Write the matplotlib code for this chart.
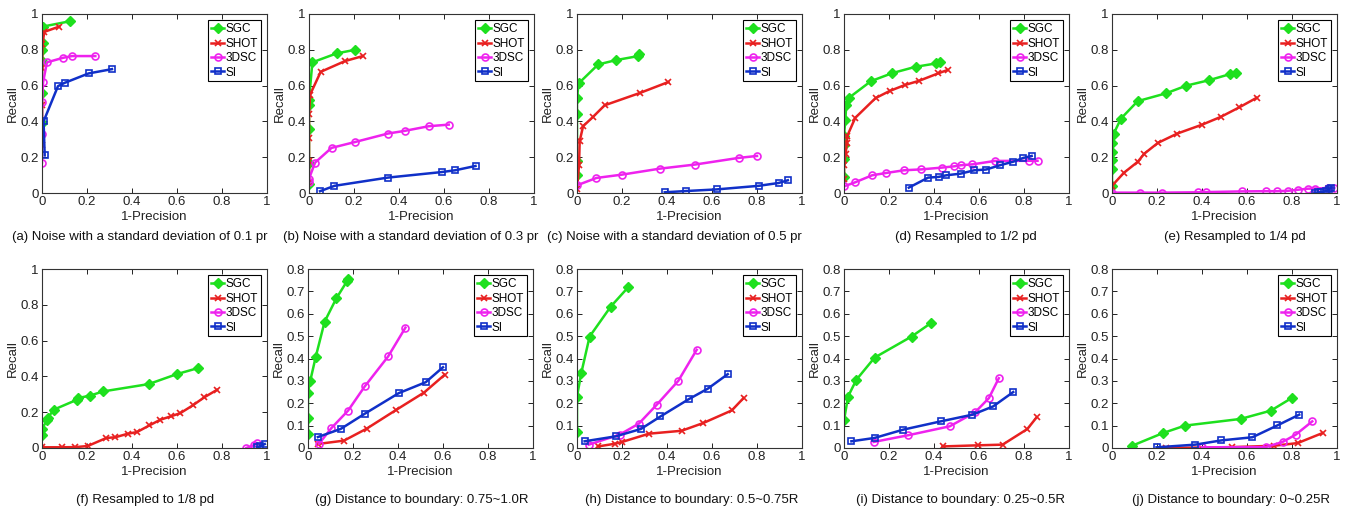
import matplotlib
matplotlib.use('Agg')
import matplotlib.pyplot as plt

plt.rcParams['font.family'] = ['Liberation Sans', 'DejaVu Sans']

methods = ['SGC', 'SHOT', '3DSC', 'SI']

# (a) noise 0.1 pr
a_sgc_x = [0, 0, 0, 0, 0.003, 0.005, 0.126]
a_sgc_y = [0.39, 0.56, 0.74, 0.80, 0.84, 0.93, 0.96]
a_shot_x = [0, 0, 0, 0.002, 0.01, 0.077]
a_shot_y = [0.27, 0.49, 0.70, 0.83, 0.90, 0.93]
a_3dsc_x = [0, 0, 0, 0.005, 0.022, 0.093, 0.133, 0.237]
a_3dsc_y = [0.17, 0.33, 0.51, 0.62, 0.73, 0.755, 0.765, 0.765]
a_si_x = [0.012, 0.007, 0.071, 0.10, 0.207, 0.311]
a_si_y = [0.21, 0.40, 0.597, 0.615, 0.668, 0.692]

# (b) noise 0.3 pr
b_sgc_x = [0, 0, 0, 0, 0, 0.015, 0.123, 0.205]
b_sgc_y = [0.05, 0.17, 0.36, 0.49, 0.52, 0.73, 0.78, 0.80]
b_shot_x = [0, 0, 0, 0, 0.005, 0.052, 0.16, 0.239]
b_shot_y = [0.06, 0.18, 0.31, 0.44, 0.55, 0.677, 0.737, 0.765]
b_3dsc_x = [0, 0, 0.027, 0.10, 0.205, 0.35, 0.425, 0.532, 0.621]
b_3dsc_y = [0.06, 0.08, 0.17, 0.252, 0.285, 0.332, 0.347, 0.373, 0.382]
b_si_x = [0.049, 0.113, 0.35, 0.59, 0.65, 0.74]
b_si_y = [0.01, 0.04, 0.086, 0.117, 0.127, 0.151]

# (c) noise 0.5 pr
c_sgc_x = [0, 0, 0, 0, 0.007, 0.094, 0.172, 0.272, 0.275]
c_sgc_y = [0.10, 0.18, 0.44, 0.528, 0.612, 0.718, 0.742, 0.765, 0.775]
c_shot_x = [0, 0.009, 0.012, 0.027, 0.071, 0.123, 0.282, 0.406]
c_shot_y = [0.02, 0.155, 0.29, 0.373, 0.425, 0.49, 0.56, 0.62]
c_3dsc_x = [0, 0.086, 0.202, 0.368, 0.525, 0.718, 0.80]
c_3dsc_y = [0.043, 0.084, 0.103, 0.136, 0.159, 0.196, 0.207]
c_si_x = [0.39, 0.485, 0.62, 0.807, 0.896, 0.937]
c_si_y = [0.004, 0.011, 0.02, 0.04, 0.056, 0.071]

# (d) resampled 1/2 pd
d_sgc_x = [0, 0, 0, 0, 0.006, 0.01, 0.02, 0.12, 0.215, 0.318, 0.41, 0.425]
d_sgc_y = [0.09, 0.19, 0.27, 0.32, 0.41, 0.49, 0.53, 0.625, 0.67, 0.705, 0.724, 0.733]
d_shot_x = [0, 0, 0.007, 0.013, 0.015, 0.05, 0.14, 0.203, 0.27, 0.334, 0.418, 0.46]
d_shot_y = [0.08, 0.155, 0.216, 0.28, 0.32, 0.42, 0.53, 0.57, 0.603, 0.627, 0.668, 0.687]
d_3dsc_x = [0, 0.05, 0.125, 0.188, 0.267, 0.344, 0.436, 0.49, 0.518, 0.571, 0.67, 0.823, 0.86]
d_3dsc_y = [0.037, 0.06, 0.099, 0.112, 0.127, 0.132, 0.142, 0.149, 0.155, 0.16, 0.179, 0.18, 0.18]
d_si_x = [0.288, 0.374, 0.421, 0.455, 0.518, 0.579, 0.631, 0.693, 0.752, 0.797, 0.834]
d_si_y = [0.03, 0.086, 0.09, 0.099, 0.108, 0.127, 0.131, 0.155, 0.175, 0.196, 0.207]

# (e) resampled 1/4 pd
e_sgc_x = [0, 0, 0, 0, 0, 0.007, 0.04, 0.114, 0.238, 0.331, 0.431, 0.524, 0.55]
e_sgc_y = [0.04, 0.132, 0.183, 0.23, 0.28, 0.33, 0.416, 0.513, 0.556, 0.60, 0.63, 0.664, 0.672]
e_shot_x = [0, 0.052, 0.114, 0.144, 0.204, 0.29, 0.401, 0.483, 0.565, 0.643]
e_shot_y = [0.04, 0.112, 0.174, 0.22, 0.28, 0.332, 0.382, 0.425, 0.478, 0.532]
e_3dsc_x = [0, 0.126, 0.22, 0.383, 0.416, 0.578, 0.686, 0.733, 0.78, 0.825, 0.87, 0.9, 0.96, 0.988]
e_3dsc_y = [0.002, 0.002, 0.002, 0.004, 0.005, 0.009, 0.01, 0.01, 0.012, 0.018, 0.024, 0.025, 0.028, 0.028]
e_si_x = [0.9, 0.914, 0.93, 0.95, 0.966, 0.973]
e_si_y = [0.002, 0.003, 0.005, 0.01, 0.02, 0.03]

# (f) resampled 1/8 pd
f_sgc_x = [0, 0, 0.022, 0.025, 0.052, 0.156, 0.159, 0.212, 0.271, 0.474, 0.60, 0.692]
f_sgc_y = [0.074, 0.108, 0.154, 0.167, 0.214, 0.27, 0.279, 0.292, 0.316, 0.357, 0.413, 0.446]
f_shot_x = [0, 0.089, 0.148, 0.203, 0.286, 0.326, 0.382, 0.422, 0.477, 0.526, 0.573, 0.615, 0.67, 0.721, 0.778]
f_shot_y = [0.004, 0.004, 0.005, 0.011, 0.056, 0.06, 0.08, 0.089, 0.126, 0.158, 0.177, 0.195, 0.238, 0.283, 0.325]
f_3dsc_x = [0.908, 0.94, 0.955]
f_3dsc_y = [0.0, 0.015, 0.026]
f_si_x = [0.955, 0.97, 0.99]
f_si_y = [0.004, 0.01, 0.022]

# (g) distance 0.75~1.0R
g_sgc_x = [0, 0, 0, 0.01, 0.034, 0.074, 0.126, 0.175, 0.177]
g_sgc_y = [0.064, 0.134, 0.248, 0.30, 0.406, 0.565, 0.669, 0.748, 0.755]
g_shot_x = [0.044, 0.16, 0.26, 0.393, 0.516, 0.607]
g_shot_y = [0.018, 0.033, 0.086, 0.171, 0.248, 0.327]
g_3dsc_x = [0.049, 0.104, 0.178, 0.252, 0.356, 0.433]
g_3dsc_y = [0.019, 0.089, 0.167, 0.275, 0.409, 0.538]
g_si_x = [0.044, 0.145, 0.252, 0.403, 0.523, 0.60]
g_si_y = [0.049, 0.085, 0.153, 0.245, 0.294, 0.361]

# (h) distance 0.5~0.75R
h_sgc_x = [0, 0, 0.019, 0.056, 0.15, 0.227]
h_sgc_y = [0.07, 0.23, 0.335, 0.498, 0.632, 0.718]
h_shot_x = [0.094, 0.168, 0.2, 0.32, 0.465, 0.562, 0.688, 0.74]
h_shot_y = [0.007, 0.019, 0.027, 0.064, 0.077, 0.112, 0.168, 0.223]
h_3dsc_x = [0.052, 0.19, 0.275, 0.354, 0.45, 0.532]
h_3dsc_y = [0.015, 0.06, 0.109, 0.193, 0.30, 0.439]
h_si_x = [0.034, 0.172, 0.284, 0.371, 0.498, 0.581, 0.67]
h_si_y = [0.03, 0.052, 0.085, 0.141, 0.219, 0.265, 0.33]

# (i) distance 0.25~0.5R
i_sgc_x = [0, 0.018, 0.055, 0.136, 0.30, 0.386]
i_sgc_y = [0.123, 0.23, 0.305, 0.404, 0.498, 0.558]
i_shot_x = [0.438, 0.596, 0.705, 0.815, 0.856]
i_shot_y = [0.007, 0.012, 0.015, 0.085, 0.137]
i_3dsc_x = [0.132, 0.285, 0.47, 0.582, 0.644, 0.688]
i_3dsc_y = [0.027, 0.057, 0.097, 0.159, 0.223, 0.312]
i_si_x = [0.033, 0.136, 0.263, 0.43, 0.571, 0.663, 0.752]
i_si_y = [0.03, 0.045, 0.082, 0.119, 0.149, 0.186, 0.25]

# (j) distance 0~0.25R
j_sgc_x = [0.089, 0.227, 0.324, 0.572, 0.706, 0.798]
j_sgc_y = [0.01, 0.067, 0.10, 0.13, 0.167, 0.223]
j_shot_x = [0.238, 0.535, 0.72, 0.825, 0.936]
j_shot_y = [0.0, 0.004, 0.01, 0.022, 0.067]
j_3dsc_x = [0.40, 0.683, 0.758, 0.817, 0.89]
j_3dsc_y = [0.003, 0.004, 0.027, 0.06, 0.119]
j_si_x = [0.198, 0.37, 0.486, 0.624, 0.735, 0.832]
j_si_y = [0.003, 0.015, 0.034, 0.048, 0.101, 0.149]

captions = [
    '(a) Noise with a standard deviation of 0.1 pr',
    '(b) Noise with a standard deviation of 0.3 pr',
    '(c) Noise with a standard deviation of 0.5 pr',
    '(d) Resampled to 1/2 pd',
    '(e) Resampled to 1/4 pd',
    '(f) Resampled to 1/8 pd',
    '(g) Distance to boundary: 0.75~1.0R',
    '(h) Distance to boundary: 0.5~0.75R',
    '(i) Distance to boundary: 0.25~0.5R',
    '(j) Distance to boundary: 0~0.25R',
]

panels = [
    [(a_sgc_x, a_sgc_y), (a_shot_x, a_shot_y), (a_3dsc_x, a_3dsc_y), (a_si_x, a_si_y)],
    [(b_sgc_x, b_sgc_y), (b_shot_x, b_shot_y), (b_3dsc_x, b_3dsc_y), (b_si_x, b_si_y)],
    [(c_sgc_x, c_sgc_y), (c_shot_x, c_shot_y), (c_3dsc_x, c_3dsc_y), (c_si_x, c_si_y)],
    [(d_sgc_x, d_sgc_y), (d_shot_x, d_shot_y), (d_3dsc_x, d_3dsc_y), (d_si_x, d_si_y)],
    [(e_sgc_x, e_sgc_y), (e_shot_x, e_shot_y), (e_3dsc_x, e_3dsc_y), (e_si_x, e_si_y)],
    [(f_sgc_x, f_sgc_y), (f_shot_x, f_shot_y), (f_3dsc_x, f_3dsc_y), (f_si_x, f_si_y)],
    [(g_sgc_x, g_sgc_y), (g_shot_x, g_shot_y), (g_3dsc_x, g_3dsc_y), (g_si_x, g_si_y)],
    [(h_sgc_x, h_sgc_y), (h_shot_x, h_shot_y), (h_3dsc_x, h_3dsc_y), (h_si_x, h_si_y)],
    [(i_sgc_x, i_sgc_y), (i_shot_x, i_shot_y), (i_3dsc_x, i_3dsc_y), (i_si_x, i_si_y)],
    [(j_sgc_x, j_sgc_y), (j_shot_x, j_shot_y), (j_3dsc_x, j_3dsc_y), (j_si_x, j_si_y)],
]
y_max = [1, 1, 1, 1, 1, 1, 0.8, 0.8, 0.8, 0.8]

colors = ['#1ee01e', '#e82020', '#ee22ee', '#1030c8']
styles = [dict(marker='D', ms=5, mfc='#1ee01e'),
          dict(marker='x', ms=4, mew=1.2),
          dict(marker='o', ms=5, mfc='none', mew=1.2),
          dict(marker='s', ms=4.5, mfc='none', mew=1.2)]

W, H = 1349, 516
fig = plt.figure(figsize=(W / 100, H / 100), dpi=100)

lefts_top = [42, 309, 577, 844, 1112]
lefts_bot = [42, 308, 577, 844, 1112]
cap_x = [140, 411, 674, 966, 1235, 145, 422, 692, 960, 1231]

for k in range(10):
    row = k // 5
    left = (lefts_top if row == 0 else lefts_bot)[k % 5]
    top = 14 if row == 0 else 269
    ax = fig.add_axes([left / W, 1 - (top + 179) / H, 225 / W, 179 / H])
    for s, (xs, ys) in enumerate(panels[k]):
        ax.plot(xs, ys, color=colors[s], lw=1.8, label=methods[s], **styles[s])
    ax.set_xlim(0, 1)
    ax.set_ylim(0, y_max[k])
    ax.set_xticks([0, 0.2, 0.4, 0.6, 0.8, 1])
    ax.set_xticklabels(['0', '0.2', '0.4', '0.6', '0.8', '1'])
    if y_max[k] == 1:
        ax.set_yticks([0, 0.2, 0.4, 0.6, 0.8, 1])
        ax.set_yticklabels(['0', '0.2', '0.4', '0.6', '0.8', '1'])
    else:
        ax.set_yticks([0, 0.1, 0.2, 0.3, 0.4, 0.5, 0.6, 0.7, 0.8])
        ax.set_yticklabels(['0', '0.1', '0.2', '0.3', '0.4', '0.5', '0.6', '0.7', '0.8'])
    ax.tick_params(direction='in', top=True, right=True, labelsize=9.5, length=3.5,
                   width=0.7, pad=2.5, colors='#222222')
    for sp in ax.spines.values():
        sp.set_linewidth(0.8)
        sp.set_color('#333333')
    ax.set_xlabel('1-Precision', fontsize=9.5, labelpad=2, color='#222222')
    ax.set_ylabel('Recall', fontsize=9.5, labelpad=1, color='#222222')
    leg = ax.legend(loc='upper right', fontsize=8.5, handlelength=1.1, handletextpad=0.1,
                    labelspacing=0.2, borderpad=0.25, borderaxespad=0.55, fancybox=False,
                    framealpha=1)
    leg.get_frame().set_edgecolor('black')
    leg.get_frame().set_linewidth(0.8)
    cy = 237 if row == 0 else 500
    fig.text(cap_x[k] / W, 1 - cy / H, captions[k], ha='center', va='center',
             fontsize=9.5, color='#111111')

fig.savefig('out.png', dpi=100)
